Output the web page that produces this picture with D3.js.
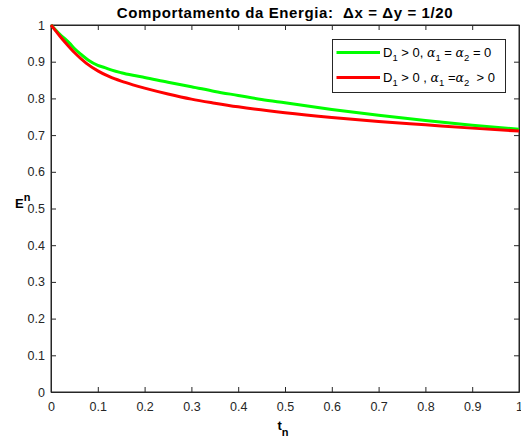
<!DOCTYPE html>
<html><head><meta charset="utf-8">
<script src="https://cdn.jsdelivr.net/npm/d3@7"></script>
<style>body{margin:0;background:#fff}svg text{font-family:"Liberation Sans",Arial,sans-serif}</style>
</head><body>
<svg id="c" width="521" height="447"></svg>
<script>
const tGreen = [0,0.01,0.02,0.03,0.04,0.05,0.065,0.08,0.1,0.115,0.13,0.15,0.175,0.2,0.25,0.3,0.35,0.4,0.45,0.5,0.6,0.7,0.8,0.9,1.0];
const eGreen = [1.0,0.986,0.973,0.962,0.950,0.936,0.919,0.904,0.890,0.884,0.877,0.870,0.863,0.857,0.844,0.832,0.819,0.808,0.797,0.788,0.770,0.754,0.740,0.727,0.716];
const tRed = [0,0.01,0.02,0.03,0.05,0.075,0.1,0.125,0.15,0.175,0.2,0.25,0.3,0.35,0.4,0.5,0.6,0.7,0.8,0.9,1.0];
const eRed = [1.0,0.984,0.968,0.953,0.925,0.896,0.875,0.859,0.847,0.837,0.828,0.812,0.798,0.787,0.777,0.761,0.748,0.737,0.728,0.719,0.711];
const xTicks = [0,0.1,0.2,0.3,0.4,0.5,0.6,0.7,0.8,0.9,1];
const yTicks = [0,0.1,0.2,0.3,0.4,0.5,0.6,0.7,0.8,0.9,1];

const svg = d3.select("#c");
const L=51,R=519,T=25,B=392;
const x = d3.scaleLinear().domain([0,1]).range([L,R]);
const y = d3.scaleLinear().domain([0,1]).range([B,T]);
const axCol="#262626";

svg.append("rect").attr("x",L).attr("y",T).attr("width",R-L).attr("height",B-T)
  .attr("fill","#fff").attr("stroke",axCol).attr("stroke-width",1);

const fmt = d=> d===0?"0":(d===1?"1":d3.format(".1f")(d));
svg.append("g").attr("transform",`translate(0,${B})`)
  .call(d3.axisBottom(x).tickValues(xTicks).tickFormat(fmt).tickSizeInner(-5).tickSizeOuter(0).tickPadding(10));
svg.append("g").attr("transform",`translate(${L},0)`)
  .call(d3.axisLeft(y).tickValues(yTicks).tickFormat(fmt).tickSizeInner(-5).tickSizeOuter(0).tickPadding(6));
svg.append("g").attr("transform",`translate(0,${T})`)
  .call(d3.axisTop(x).tickValues(xTicks).tickFormat("").tickSizeInner(-5).tickSizeOuter(0));
svg.append("g").attr("transform",`translate(${R},0)`)
  .call(d3.axisRight(y).tickValues(yTicks).tickFormat("").tickSizeInner(-5).tickSizeOuter(0));
svg.selectAll(".domain").attr("stroke",axCol);
svg.selectAll(".tick line").attr("stroke",axCol);
svg.selectAll(".tick text").attr("fill",axCol).style("font-size","12.5px").style("font-family","Liberation Sans, Arial, sans-serif");

const line = d3.line().x(d=>x(d[0])).y(d=>y(d[1])).curve(d3.curveMonotoneX);
svg.append("path").datum(tGreen.map((t,i)=>[t,eGreen[i]])).attr("d",line)
  .attr("fill","none").attr("stroke","#00ff00").attr("stroke-width",3);
svg.append("path").datum(tRed.map((t,i)=>[t,eRed[i]])).attr("d",line)
  .attr("fill","none").attr("stroke","#ff0000").attr("stroke-width",3);

svg.append("text").attr("x",285).attr("y",18).attr("text-anchor","middle")
  .attr("font-weight","bold").attr("font-size","15px").attr("fill","#000")
  .attr("letter-spacing","0.6px")
  .style("white-space","pre")
  .text("Comportamento da Energia:  \u0394x = \u0394y = 1/20");

const xl = svg.append("text").attr("x",283).attr("y",430).attr("text-anchor","middle")
  .attr("font-weight","bold").attr("font-size","13px").attr("fill","#000");
xl.append("tspan").text("t");
xl.append("tspan").attr("dy",6).attr("font-size","11px").text("n");
const yl = svg.append("text").attr("x",15).attr("y",y(0.5)-1)
  .attr("font-weight","bold").attr("font-size","13px").attr("fill","#000");
yl.append("tspan").text("E");
yl.append("tspan").attr("dy",-7).attr("font-size","11px").text("n");

const lg = svg.append("g");
lg.append("rect").attr("x",332.5).attr("y",39.5).attr("width",173).attr("height",53)
  .attr("fill","#fff").attr("stroke",axCol).attr("stroke-width",1);
const items = [
  {c:"#00ff00", y:52.5, parts:[["D",""],["1","sub"],[" > 0, ",""],["\u03b1","it"],["1","sub"],[" = ",""],["\u03b1","it"],["2","sub"],[" = 0",""]]},
  {c:"#ff0000", y:77.5, parts:[["D",""],["1","sub"],[" > 0 , ",""],["\u03b1","it"],["1","sub"],[" =",""],["\u03b1","it"],["2","sub"],["  > 0",""]]}
];
items.forEach(it=>{
  lg.append("line").attr("x1",336.5).attr("x2",380).attr("y1",it.y).attr("y2",it.y)
    .attr("stroke",it.c).attr("stroke-width",3);
  const tx = lg.append("text").attr("x",383).attr("y",it.y+4).attr("font-size","13px").attr("fill","#000")
    .style("white-space","pre");
  let sub=false;
  it.parts.forEach(p=>{
    const s = tx.append("tspan").text(p[0]);
    if(p[1]==="sub"){ s.attr("dy",4).attr("font-size","9.5px"); sub=true; }
    else { if(sub){ s.attr("dy",-4); sub=false; } }
    if(p[1]==="it"){ s.attr("font-style","italic").attr("font-family","DejaVu Serif, serif").attr("font-size","12.5px"); }
  });
});
</script>
</body></html>
